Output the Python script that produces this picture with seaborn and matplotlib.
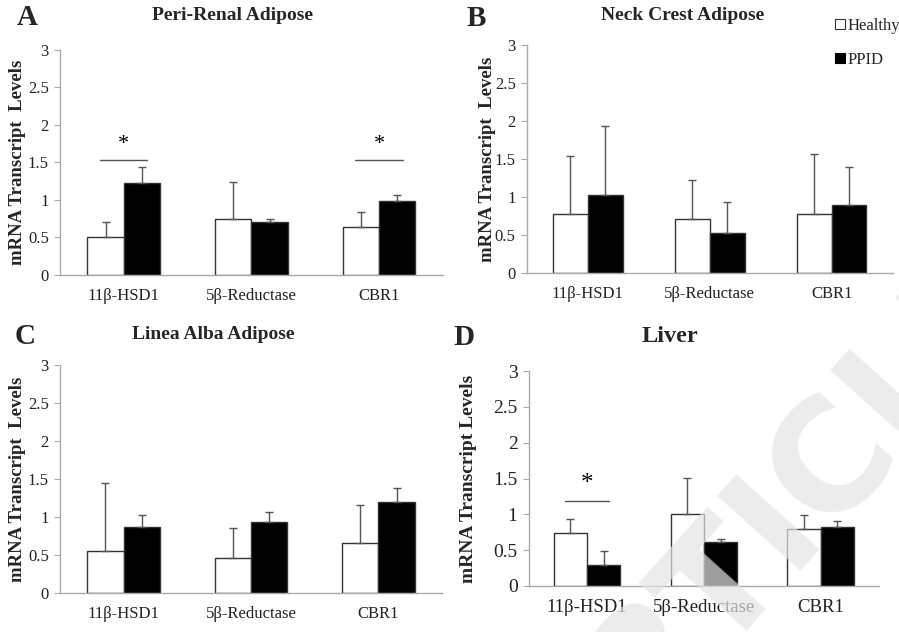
import numpy as np
import pandas as pd
import matplotlib
matplotlib.use("Agg")
import matplotlib.pyplot as plt
from matplotlib.patches import Patch
import seaborn as sns

sns.set_style("white")
plt.rcParams['font.family'] = ['Liberation Serif', 'DejaVu Serif']

genes = ["11β-HSD1", "5β-Reductase", "CBR1"]
groups = ["Healthy", "PPID"]

# mean values and upper error bar tops, per panel
peri_healthy = [0.51, 0.75, 0.64]
peri_healthy_top = [0.70, 1.24, 0.84]
peri_ppid = [1.23, 0.70, 0.99]
peri_ppid_top = [1.44, 0.75, 1.06]

neck_healthy = [0.77, 0.71, 0.77]
neck_healthy_top = [1.54, 1.22, 1.57]
neck_ppid = [1.02, 0.53, 0.90]
neck_ppid_top = [1.93, 0.94, 1.40]

linea_healthy = [0.55, 0.46, 0.66]
linea_healthy_top = [1.45, 0.86, 1.16]
linea_ppid = [0.87, 0.94, 1.20]
linea_ppid_top = [1.02, 1.06, 1.38]

liver_healthy = [0.74, 1.00, 0.79]
liver_healthy_top = [0.94, 1.51, 0.99]
liver_ppid = [0.29, 0.61, 0.83]
liver_ppid_top = [0.49, 0.66, 0.91]

# significance: (gene index, line height)
peri_sig = [(0, 1.53), (2, 1.53)]
liver_sig = [(0, 1.19)]

yticks = [0, 0.5, 1, 1.5, 2, 2.5, 3]
ytick_labels = ["0", "0.5", "1", "1.5", "2", "2.5", "3"]

panels = [
    dict(letter="A", title="Peri-Renal Adipose", h=peri_healthy, ht=peri_healthy_top,
         p=peri_ppid, pt=peri_ppid_top, sig=peri_sig,
         rect=[0.0667, 0.5649, 0.426, 0.356], yfs=12, xfs=12, tfs=14,
         ylab="mRNA Transcript  Levels", lfs=13.5,
         letter_xy=(0.030, 0.972), title_xy=(0.259, 0.975), ylab_x=0.02),
    dict(letter="B", title="Neck Crest Adipose", h=neck_healthy, ht=neck_healthy_top,
         p=neck_ppid, pt=neck_ppid_top, sig=[],
         rect=[0.586, 0.568, 0.407, 0.361], yfs=12, xfs=12, tfs=14,
         ylab="mRNA Transcript  Levels", lfs=13.5,
         letter_xy=(0.53, 0.970), title_xy=(0.759, 0.975), ylab_x=0.542),
    dict(letter="C", title="Linea Alba Adipose", h=linea_healthy, ht=linea_healthy_top,
         p=linea_ppid, pt=linea_ppid_top, sig=[],
         rect=[0.0667, 0.0617, 0.425, 0.361], yfs=12, xfs=12, tfs=14,
         ylab="mRNA Transcript  Levels", lfs=13.5,
         letter_xy=(0.028, 0.468), title_xy=(0.237, 0.47), ylab_x=0.02),
    dict(letter="D", title="Liver", h=liver_healthy, ht=liver_healthy_top,
         p=liver_ppid, pt=liver_ppid_top, sig=liver_sig,
         rect=[0.588, 0.0728, 0.390, 0.340], yfs=14, xfs=13.5, tfs=17.5,
         ylab="mRNA Transcript Levels", lfs=14,
         letter_xy=(0.516, 0.466), title_xy=(0.745, 0.467), ylab_x=0.521),
]

fig = plt.figure(figsize=(8.99, 6.32), dpi=100)
spine_col = "#aaaaaa"

for pn in panels:
    ax = fig.add_axes(pn["rect"])
    df = pd.DataFrame({
        "gene": genes * 2,
        "group": [groups[0]] * 3 + [groups[1]] * 3,
        "value": pn["h"] + pn["p"],
    })
    sns.barplot(data=df, x="gene", y="value", hue="group", order=genes,
                hue_order=groups, palette=["white", "black"], width=0.57,
                gap=0, edgecolor="#333333", linewidth=1.0, errorbar=None,
                legend=False, ax=ax)
    bar_conts = list(ax.containers[:2])
    tops = [pn["ht"], pn["pt"]]
    means = [pn["h"], pn["p"]]
    for gi, cont in enumerate(bar_conts):
        for bi, bar in enumerate(cont):
            cx = bar.get_x() + bar.get_width() / 2
            ax.errorbar([cx], [means[gi][bi]],
                        yerr=[[0], [tops[gi][bi] - means[gi][bi]]],
                        fmt="none", ecolor="#555555", elinewidth=1.0,
                        capsize=3, capthick=1.0, zorder=1)
    for gidx, yline in pn["sig"]:
        b0 = bar_conts[0][gidx]
        b1 = bar_conts[1][gidx]
        x0 = b0.get_x() + b0.get_width() * 0.35
        x1 = b1.get_x() + b1.get_width() * 0.65
        ax.plot([x0, x1], [yline, yline], color="#555555", lw=1.0)
        ax.text((x0 + x1) / 2, yline + 0.08, "*", ha="center", va="bottom",
                fontsize=pn["yfs"] + 4, color="black")
    ax.set_ylim(0, 3)
    ax.set_xlim(-0.5, 2.5)
    ax.set_yticks(yticks)
    ax.set_yticklabels(ytick_labels)
    ax.set_xlabel("")
    ax.set_ylabel("")
    sns.despine(ax=ax)
    for s in ["left", "bottom"]:
        ax.spines[s].set_color(spine_col)
        ax.spines[s].set_linewidth(1.0)
    ax.tick_params(axis="y", which="both", left=True, length=4, color=spine_col,
                   labelsize=pn["yfs"], labelcolor="#222222", pad=4)
    ax.tick_params(axis="x", bottom=False, labelsize=pn["xfs"],
                   labelcolor="#222222", pad=6)
    # panel letter, title, y label
    fig.text(pn["letter_xy"][0], pn["letter_xy"][1], pn["letter"], fontsize=21,
             fontweight="bold", ha="center", va="center")
    fig.text(pn["title_xy"][0], pn["title_xy"][1], pn["title"], fontsize=pn["tfs"],
             fontweight="bold", ha="center", va="center")
    ymid = pn["rect"][1] + pn["rect"][3] / 2
    fig.text(pn["ylab_x"], ymid, pn["ylab"], rotation=90,
             fontsize=pn["lfs"], fontweight="bold", ha="center", va="center")

# legend in panel B corner
handles = [Patch(facecolor="white", edgecolor="#333333", linewidth=0.8),
           Patch(facecolor="black", edgecolor="black", linewidth=0.8)]
fig.legend(handles, groups, loc="upper left", bbox_to_anchor=(0.929, 0.972),
           frameon=False, fontsize=12, handlelength=0.6, handleheight=0.6,
           handletextpad=0.12, labelspacing=1.1, borderaxespad=0, borderpad=0)

# faint watermark
fig.text(0.86, 0.15, "ARTICLE", fontsize=110, fontweight="bold",
         family="DejaVu Sans", rotation=48, color="#e4e4e4", alpha=0.7,
         ha="center", va="center", zorder=10)

fig.savefig("out.png", dpi=100)
